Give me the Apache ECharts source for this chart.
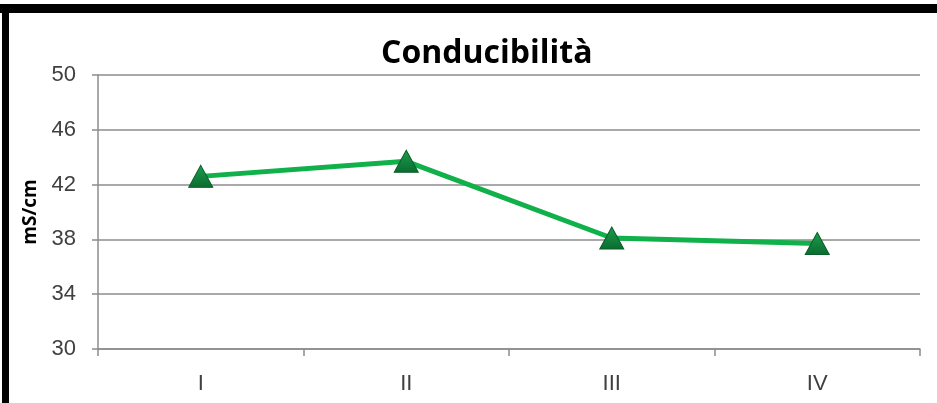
<!DOCTYPE html>
<html>
<head>
<meta charset="utf-8">
<script src="https://cdn.jsdelivr.net/npm/echarts@6/dist/echarts.min.js"></script>
<style>
html, body { margin: 0; padding: 0; background: #fff; }
#chart { width: 937px; height: 403px; }
</style>
</head>
<body>
<div id="chart"></div>
<script>
var categories = ['I', 'II', 'III', 'IV'];
var conducibilita = [42.6, 43.7, 38.1, 37.7];
var yTicks = [30, 34, 38, 42, 46, 50];

var myChart = echarts.init(document.getElementById('chart'));

var option = {
    backgroundColor: '#fff',
    animation: false,
    title: {
        text: 'Conducibilità',
        left: 376,
        top: 33,
        textStyle: {
            fontFamily: 'Open Sans',
            fontWeight: 'bold',
            fontSize: 32,
            color: '#000'
        }
    },
    graphic: [
        // cornice nera in alto e a sinistra
        { type: 'rect', shape: { x: 0, y: 4, width: 937, height: 9 }, style: { fill: '#000' } },
        { type: 'rect', shape: { x: 2, y: 4, width: 7, height: 399 }, style: { fill: '#000' } }
    ],
    grid: {
        left: 98,
        right: 17,
        top: 75,
        bottom: 54
    },
    xAxis: {
        type: 'category',
        data: categories,
        boundaryGap: true,
        axisLine: { lineStyle: { color: '#8c8c8c', width: 1.5 } },
        axisTick: { show: true, length: 7, lineStyle: { color: '#8c8c8c', width: 1.5 } },
        axisLabel: {
            margin: 24,
            fontFamily: 'Liberation Sans',
            fontSize: 22,
            color: '#404040'
        }
    },
    yAxis: {
        type: 'value',
        min: yTicks[0],
        max: yTicks[yTicks.length - 1],
        interval: 4,
        name: 'mS/cm',
        nameLocation: 'middle',
        nameGap: 58,
        nameTextStyle: {
            fontFamily: 'Open Sans',
            fontWeight: 'bold',
            fontSize: 19,
            color: '#000'
        },
        axisLine: { show: true, lineStyle: { color: '#8c8c8c', width: 1.5 } },
        axisTick: { show: true, length: 6, lineStyle: { color: '#8c8c8c', width: 1.5 } },
        axisLabel: {
            margin: 22,
            fontFamily: 'Liberation Sans',
            fontSize: 22,
            color: '#404040'
        },
        splitLine: { lineStyle: { color: '#8c8c8c', width: 1.5 } }
    },
    series: [{
        name: 'Conducibilità',
        type: 'line',
        data: conducibilita,
        symbol: 'triangle',
        symbolSize: [24, 22],
        lineStyle: { color: '#10b04a', width: 5 },
        itemStyle: {
            color: new echarts.graphic.LinearGradient(0, 0, 0, 1, [
                { offset: 0, color: '#1c9e4c' },
                { offset: 1, color: '#0b6b30' }
            ]),
            borderColor: '#0a5e2a',
            borderWidth: 1
        }
    }]
};

myChart.setOption(option);
</script>
</body>
</html>
